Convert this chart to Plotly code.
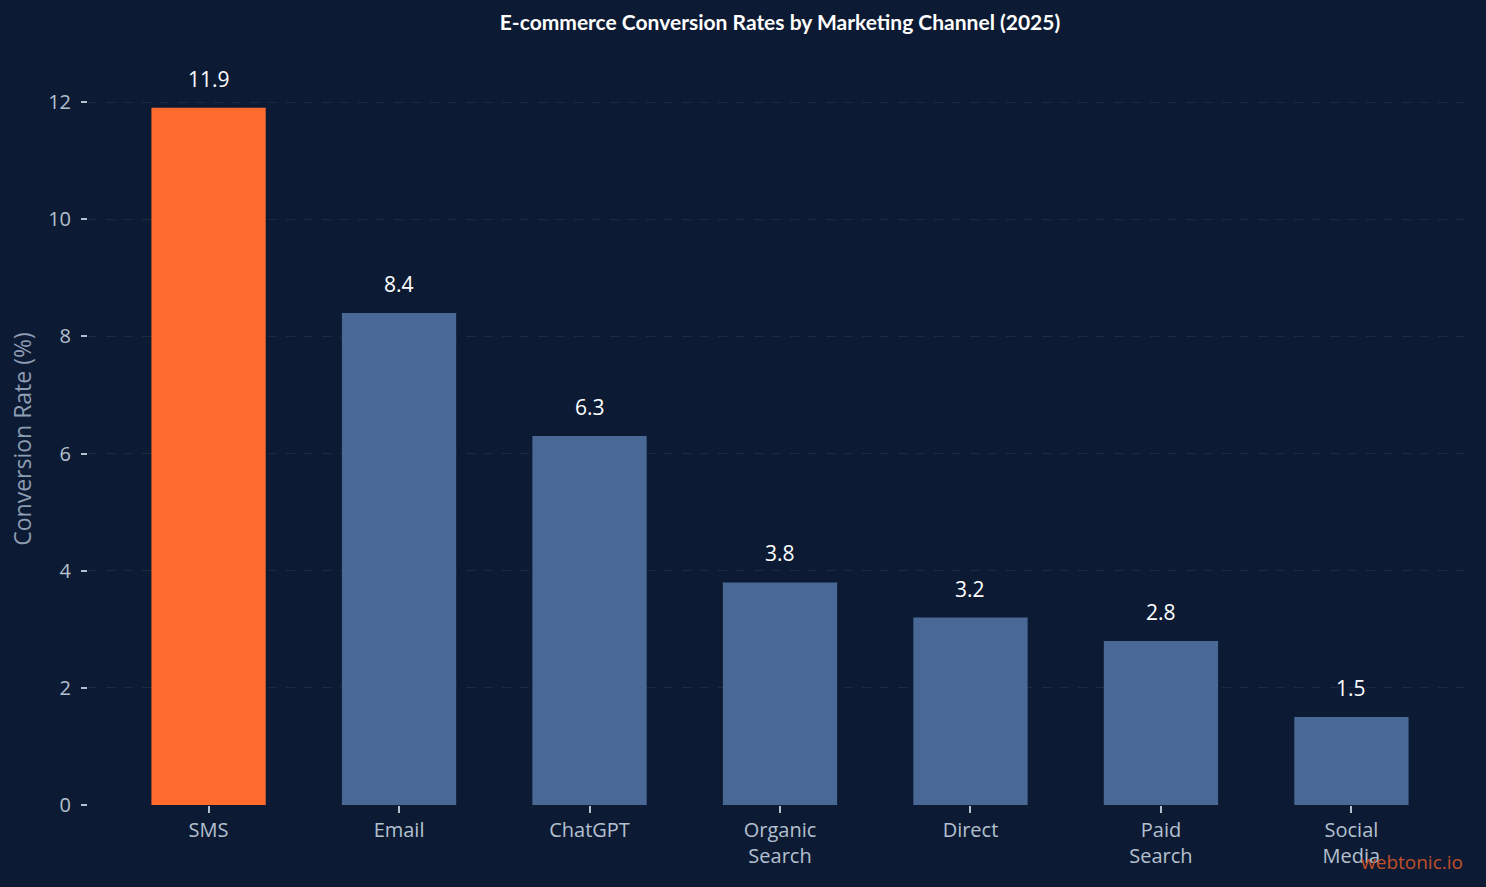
import plotly.graph_objects as go

channels = ["SMS", "Email", "ChatGPT", "Organic<br>Search", "Direct", "Paid<br>Search", "Social<br>Media"]
rates = [11.9, 8.4, 6.3, 3.8, 3.2, 2.8, 1.5]
bar_colors = ["#ff6b2c", "#4a6896", "#4a6896", "#4a6896", "#4a6896", "#4a6896", "#4a6896"]
y_ticks = [0, 2, 4, 6, 8, 10, 12]

BG = "#0c1b33"
TICK_COLOR = "#b4c0d0"

fig = go.Figure()
fig.add_trace(go.Bar(
    x=channels, y=rates, marker=dict(color=bar_colors, line=dict(width=0)),
    width=0.6, hoverinfo="skip",
))

for c, v in zip(channels, rates):
    fig.add_annotation(x=c, y=v, text=f"{v:.1f}", showarrow=False,
                       yanchor="bottom", yshift=13,
                       font=dict(family="Open Sans", size=21, color="#ffffff"))

fig.add_annotation(xref="paper", yref="paper", x=0.995, y=-0.0775, xanchor="right", yanchor="middle",
                   text="webtonic.io", showarrow=False,
                   font=dict(family="Open Sans", size=19, color="#c0502a"))

fig.update_layout(
    width=1486, height=887,
    paper_bgcolor=BG, plot_bgcolor=BG,
    margin=dict(l=88, r=14, t=73, b=82),
    title=dict(text="<b>E-commerce Conversion Rates by Marketing Channel (2025)</b>",
               xref="paper", x=0.5, xanchor="center", yref="container", y=0.974, yanchor="middle",
               font=dict(family="Lato", size=21, color="#ffffff")),
    showlegend=False,
    xaxis=dict(range=[-0.633, 6.633], showgrid=False, zeroline=False, showline=False,
               ticks="outside", ticklen=7, tickwidth=2, tickcolor=TICK_COLOR,
               tickfont=dict(family="Open Sans", size=20, color=TICK_COLOR)),
    yaxis=dict(range=[0, 12.495], tickvals=y_ticks, showgrid=True,
               gridcolor="rgba(255,255,255,0.07)", griddash="dash", gridwidth=1,
               zeroline=False, showline=False,
               ticks="outside", ticklen=6, tickwidth=2, tickcolor=TICK_COLOR,
               ticklabelstandoff=6,
               tickfont=dict(family="Open Sans", size=20, color=TICK_COLOR),
               title=dict(text="Conversion Rate (%)", standoff=10,
                          font=dict(family="Open Sans", size=23, color="#8f9db3"))),
)

fig.write_html("out.html")
